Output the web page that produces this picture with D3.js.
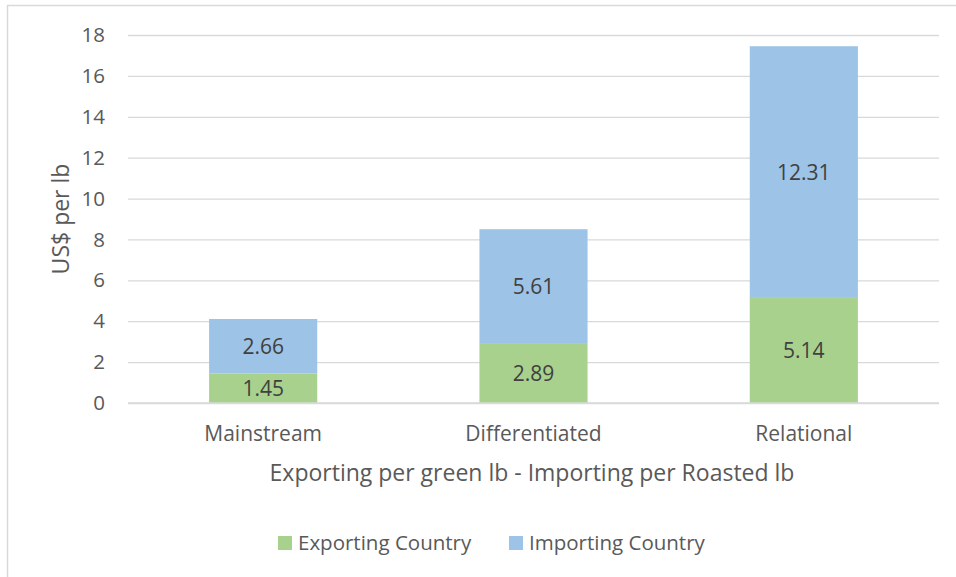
<!DOCTYPE html>
<html>
<head>
<meta charset="utf-8">
<script src="https://cdn.jsdelivr.net/npm/d3@7"></script>
<style>
  html, body { margin: 0; padding: 0; background: #fff; }
  svg { display: block; }
  text { font-family: "Open Sans", "Liberation Sans", sans-serif; }
</style>
</head>
<body>
<svg id="chart" width="956" height="577"></svg>
<script>
const categories = ["Mainstream", "Differentiated", "Relational"];
const seriesNames = ["Exporting Country", "Importing Country"];
const exporting = [1.45, 2.89, 5.14];
const importing = [2.66, 5.61, 12.31];
const yTicks = [0, 2, 4, 6, 8, 10, 12, 14, 16, 18];
const colors = ["#a9d18e", "#9dc3e6"];

const svg = d3.select("#chart");
const W = 956, H = 577;

// outer frame
svg.append("rect").attr("x", 7.5).attr("y", 5.5).attr("width", W + 10).attr("height", H + 10)
  .attr("fill", "#fff").attr("stroke", "#d9d9d9").attr("stroke-width", 1.5);

const pLeft = 128, pRight = 939, pTop = 35, pBottom = 403;

const x = d3.scaleBand().domain(categories).range([pLeft, pRight]).paddingInner(0.6).paddingOuter(0.3);
const y = d3.scaleLinear().domain([0, 18]).range([pBottom, pTop]);

// gridlines
const yAxis = d3.axisLeft(y).tickValues(yTicks).tickSize(-(pRight - pLeft)).tickPadding(23).tickFormat(d3.format("d"));
const gy = svg.append("g").attr("transform", `translate(${pLeft},0)`).call(yAxis);
gy.select(".domain").remove();
gy.selectAll(".tick line").attr("stroke", "#d9d9d9").attr("stroke-width", 1.3);
gy.selectAll(".tick text").attr("fill", "#595959").style("font-size", "20.5px").style("font-family", '"Open Sans", sans-serif');

// stacked data
const table = categories.map((c, i) => ({ cat: c, "Exporting Country": exporting[i], "Importing Country": importing[i] }));
const stack = d3.stack().keys(seriesNames)(table);

const layers = svg.append("g").selectAll("g").data(stack).join("g").attr("fill", (d, i) => colors[i]);
layers.selectAll("rect").data(d => d).join("rect")
  .attr("x", d => x(d.data.cat))
  .attr("width", x.bandwidth())
  .attr("y", d => y(d[1]))
  .attr("height", d => y(d[0]) - y(d[1]));

// x axis baseline
svg.append("line").attr("x1", pLeft).attr("x2", pRight).attr("y1", y(0)).attr("y2", y(0))
  .attr("stroke", "#d9d9d9").attr("stroke-width", 1.3);

// data labels
const labG = svg.append("g");
stack.forEach((layer) => {
  layer.forEach(d => {
    labG.append("text")
      .attr("x", x(d.data.cat) + x.bandwidth() / 2)
      .attr("y", (y(d[0]) + y(d[1])) / 2)
      .attr("dy", "0.36em")
      .attr("text-anchor", "middle")
      .attr("fill", "#404040")
      .style("font-size", "21px")
      .text((d[1] - d[0]).toFixed(2));
  });
});

// category labels
const xAxis = d3.axisBottom(x).tickSize(0).tickPadding(23);
const gx = svg.append("g").attr("transform", `translate(0,${pBottom})`).call(xAxis);
gx.select(".domain").remove();
gx.selectAll(".tick text").attr("fill", "#595959").style("font-size", "21px").style("font-family", '"Open Sans", sans-serif');

// axis titles
svg.append("text").attr("x", 532).attr("y", 473).attr("dy", "0.36em")
  .attr("text-anchor", "middle").attr("fill", "#595959").style("font-size", "23px")
  .text("Exporting per green lb - Importing per Roasted lb");
svg.append("text").attr("transform", `translate(61,${(pTop + pBottom) / 2}) rotate(-90)`).attr("dy", "0.36em")
  .attr("text-anchor", "middle").attr("fill", "#595959").style("font-size", "23px")
  .text("US$ per lb");

// legend
const legend = svg.append("g");
const legendX = [278, 509];
seriesNames.forEach((s, i) => {
  legend.append("rect").attr("x", legendX[i]).attr("y", 536).attr("width", 14).attr("height", 14).attr("fill", colors[i]);
  legend.append("text").attr("x", legendX[i] + 20).attr("y", 543).attr("dy", "0.36em")
    .attr("fill", "#595959").style("font-size", "20.5px").text(s);
});
</script>
</body>
</html>
